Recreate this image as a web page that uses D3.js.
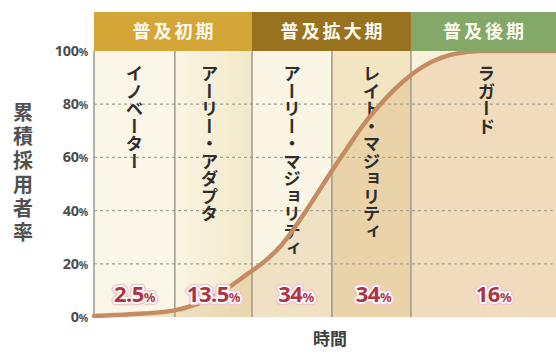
<!DOCTYPE html>
<html><head><meta charset="utf-8">
<script src="https://cdn.jsdelivr.net/npm/d3@7"></script>
<style>
html,body{margin:0;padding:0;background:#fff;}
svg{display:block;}
</style></head>
<body>
<svg id="chart" width="556" height="354"></svg>
<script>
// ---- data ----
const segmentEdges = [0, 17.5, 34.2, 51.5, 68.6, 100];           // time units
const segmentNames = ["イノベーター","アーリー・アダプタ","アーリー・マジョリティ","レイト・マジョリティ","ラガード"];
const segmentShares = ["2.5","13.5","34","34","16"];
const phaseNames = ["普及初期","普及拡大期","普及後期"];
const phaseFirstSeg = [0, 2, 4];
const phaseLastSeg = [1, 3, 4];
const curveTime = [0, 7.8, 17.1, 25.8, 33.1, 37.0, 40.3, 46.3, 51.5, 55.0, 58.2, 61.5, 65.0, 68.6, 74.2, 78.4, 83.5, 100];
const curveValue = [0.4, 1.0, 2.4, 7.5, 16, 21, 26.5, 41, 55, 64, 72, 79, 85.5, 91, 96.8, 99, 100, 100];
const yTicks = [0, 20, 40, 60, 80, 100];

// ---- styles ----
const segFill = ["#fbf7e8", "#f8f1da", "#fbf5e5", "#f4e5c2", "#fbf0da"];
const phaseFill = ["#d4a637", "#98721f", "#84a867"];
const svg = d3.select("#chart");
const x = d3.scaleLinear().domain([0, 100]).range([94, 556]);
const y = d3.scaleLinear().domain([0, 100]).range([317, 51]);
const headerTop = 12;

const defs = svg.append("defs");
defs.append("clipPath").attr("id","plotclip").append("rect")
  .attr("x", x(0)).attr("y", y(100)).attr("width", x(100)-x(0)).attr("height", y(0)-y(100));
const g2 = defs.append("linearGradient").attr("id","seg2").attr("x1","0").attr("x2","1");
g2.append("stop").attr("offset","0").attr("stop-color","#faf5e3");
g2.append("stop").attr("offset","1").attr("stop-color","#f3e8c8");

// segments backgrounds
const segs = d3.range(segmentNames.length);
svg.selectAll("rect.seg").data(segs).join("rect")
  .attr("x", i => x(segmentEdges[i]))
  .attr("y", y(100))
  .attr("width", i => x(segmentEdges[i+1]) - x(segmentEdges[i]))
  .attr("height", y(0) - y(100))
  .attr("fill", i => i === 1 ? "url(#seg2)" : segFill[i]);

// area under curve
const pts = curveTime.map((t, i) => [t, curveValue[i]]);
svg.append("path")
  .datum(pts)
  .attr("clip-path","url(#plotclip)")
  .attr("fill", "rgb(200,150,80)")
  .attr("fill-opacity", 0.22)
  .attr("d", d3.area().x(d => x(d[0])).y0(y(0)).y1(d => y(d[1])).curve(d3.curveMonotoneX));

// gridlines
svg.selectAll("line.grid").data(yTicks.filter(v => v > 0 && v < 100)).join("line")
  .attr("x1", x(0)).attr("x2", x(100))
  .attr("y1", d => y(d)).attr("y2", d => y(d))
  .attr("stroke", "#aaa596").attr("stroke-width", 1.2)
  .attr("stroke-dasharray", "3,3");

// segment divider lines
svg.selectAll("line.div").data(segmentEdges.slice(0, -1)).join("line")
  .attr("x1", d => x(d)).attr("x2", d => x(d))
  .attr("y1", y(100)).attr("y2", y(0))
  .attr("stroke", "#9c9a88").attr("stroke-width", 1.5);

// vertical segment names
svg.selectAll("text.seg").data(segs).join("text")
  .attr("x", i => (x(segmentEdges[i]) + x(segmentEdges[i+1])) / 2 + (i===1?-4:(i===4?3:0)))
  .attr("y", 65)
  .attr("style", "writing-mode: vertical-rl;")
  .attr("font-family", "'Noto Sans CJK JP', sans-serif")
  .attr("font-weight", 700)
  .attr("font-size", 17.5)
  .attr("fill", "#2e2e2e")
  .text(i => segmentNames[i]);

// curve
svg.append("path")
  .datum(pts)
  .attr("fill", "none")
  .attr("stroke", "#c58b63")
  .attr("stroke-width", 4.5)
  .attr("stroke-linecap", "round")
  .attr("d", d3.line().x(d => x(d[0])).y(d => y(d[1])).curve(d3.curveMonotoneX));

// share labels
const labelOffsets = [0, 0, 4, 2, 10];
const shareG = svg.selectAll("g.share").data(segs).join("g")
  .attr("transform", i => `translate(${(x(segmentEdges[i]) + x(segmentEdges[i+1])) / 2 + labelOffsets[i]},302)`);
[["#f2c7c9", 6.5], ["#ffffff", 3.5], [null, 0]].forEach(([stroke, w]) => {
  const t = shareG.append("text")
    .attr("text-anchor", "middle")
    .attr("font-family", "'Noto Sans', 'DejaVu Sans', sans-serif")
    .attr("font-weight", 700)
    .attr("font-size", 22)
    .attr("fill", stroke ? stroke : "#ad3443")
    .attr("letter-spacing", -0.5);
  if (stroke) t.attr("stroke", stroke).attr("stroke-width", w).attr("stroke-linejoin", "round");
  t.append("tspan").text(i => segmentShares[i]);
  t.append("tspan").attr("font-size", 13).text("%");
});

// header phases
const phases = d3.range(phaseNames.length);
svg.selectAll("rect.phase").data(phases).join("rect")
  .attr("x", i => x(segmentEdges[phaseFirstSeg[i]]))
  .attr("y", headerTop)
  .attr("width", i => x(segmentEdges[phaseLastSeg[i] + 1]) - x(segmentEdges[phaseFirstSeg[i]]))
  .attr("height", y(100) - headerTop)
  .attr("fill", i => phaseFill[i]);
svg.selectAll("text.phase").data(phases).join("text")
  .attr("x", i => (x(segmentEdges[phaseFirstSeg[i]]) + x(segmentEdges[phaseLastSeg[i] + 1])) / 2 + 1.5)
  .attr("y", (headerTop + y(100)) / 2 + 6.5)
  .attr("text-anchor", "middle")
  .attr("font-family", "'Noto Sans CJK JP', sans-serif")
  .attr("font-weight", 700)
  .attr("font-size", 18)
  .attr("letter-spacing", 3)
  .attr("fill", "#fffaf0")
  .text(i => phaseNames[i]);

// y tick labels
const yt = svg.selectAll("text.ytick").data(yTicks).join("text")
  .attr("x", 88)
  .attr("y", d => y(d) + 5)
  .attr("text-anchor", "end")
  .attr("font-family", "'Noto Sans', 'DejaVu Sans', sans-serif")
  .attr("font-weight", 700)
  .attr("font-size", 14.5)
  .attr("letter-spacing", -0.3)
  .attr("fill", "#4e4e4e");
yt.append("tspan").text(d => d);
yt.append("tspan").attr("font-size", 10.5).text("%");

// y axis title
svg.append("text")
  .attr("x", 23).attr("y", 102)
  .attr("style", "writing-mode: vertical-rl; letter-spacing: 4px;")
  .attr("font-family", "'Noto Sans CJK JP', sans-serif")
  .attr("font-weight", 700)
  .attr("font-size", 20)
  .attr("fill", "#505050")
  .text("累積採用者率");

// x axis title
svg.append("text")
  .attr("x", 330).attr("y", 345)
  .attr("text-anchor", "middle")
  .attr("font-family", "'Noto Sans CJK JP', sans-serif")
  .attr("font-weight", 700)
  .attr("font-size", 17)
  .attr("fill", "#404040")
  .text("時間");
</script>
</body></html>
